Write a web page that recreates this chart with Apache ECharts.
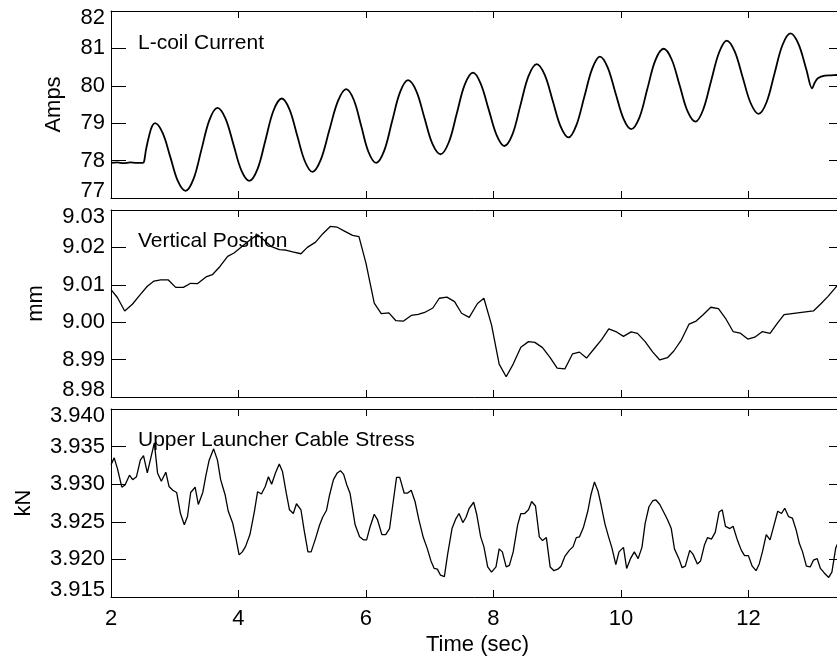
<!DOCTYPE html>
<html>
<head>
<meta charset="utf-8">
<script src="https://cdn.jsdelivr.net/npm/echarts@6/dist/echarts.min.js"></script>
<style>
  html, body { margin: 0; padding: 0; background: #fff; }
  #chart { width: 837px; height: 656px; }
</style>
</head>
<body>
<div id="chart"></div>
<script>
// L-coil current (Amps) versus time (sec)
const coilTime = [2.00, 2.10, 2.20, 2.30, 2.40, 2.50, 2.52, 2.55, 2.60, 2.645, 2.69,
  2.81, 2.93, 3.05, 3.17, 3.295, 3.42, 3.545, 3.67, 3.795, 3.92, 4.045, 4.17,
  4.30, 4.425, 4.55, 4.68, 4.80, 4.92, 5.04, 5.16, 5.29, 5.425, 5.56, 5.69,
  5.81, 5.925, 6.04, 6.16, 6.285, 6.41, 6.535, 6.66, 6.79, 6.915, 7.04, 7.17,
  7.30, 7.425, 7.55, 7.68, 7.80, 7.925, 8.05, 8.17, 8.30, 8.425, 8.55, 8.68,
  8.805, 8.93, 9.055, 9.18, 9.30, 9.425, 9.55, 9.67, 9.79, 9.915, 10.04, 10.16,
  10.29, 10.415, 10.54, 10.67, 10.795, 10.92, 11.045, 11.17, 11.29, 11.415, 11.54, 11.66,
  11.785, 11.91, 12.035, 12.16, 12.285, 12.41, 12.535, 12.66, 12.785, 12.91, 13.00,
  13.04, 13.09, 13.20, 13.30, 13.42, 13.50];
const coilAmps = [77.94, 77.95, 77.93, 77.95, 77.94, 77.94, 77.98, 78.30, 78.68, 78.92, 79.00,
  78.74, 78.10, 77.45, 77.19, 77.51, 78.30, 79.09, 79.41, 79.13, 78.44, 77.74, 77.46,
  77.78, 78.56, 79.34, 79.66, 79.37, 78.68, 77.99, 77.70, 78.02, 78.81, 79.59, 79.91,
  79.62, 78.93, 78.23, 77.94, 78.26, 79.05, 79.83, 80.15, 79.86, 79.16, 78.46, 78.17,
  78.49, 79.26, 80.03, 80.35, 80.06, 79.37, 78.68, 78.39, 78.71, 79.49, 80.26, 80.58,
  80.29, 79.60, 78.91, 78.62, 78.94, 79.70, 80.46, 80.78, 80.50, 79.81, 79.12, 78.84,
  79.15, 79.92, 80.68, 80.99, 80.71, 80.02, 79.32, 79.04, 79.36, 80.13, 80.89, 81.21,
  80.92, 80.23, 79.54, 79.25, 79.56, 80.33, 81.09, 81.40, 81.12, 80.43, 79.93,
  80.08, 80.20, 80.27, 80.28, 80.29, 80.29];

// Vertical position (mm) versus time (sec)
const posTime = [2.00, 2.10, 2.215, 2.335, 2.465, 2.57, 2.675, 2.78, 2.90, 3.015, 3.135,
  3.25, 3.355, 3.49, 3.59, 3.71, 3.83, 3.93, 4.06, 4.18, 4.30, 4.40, 4.51, 4.64,
  4.74, 4.85, 4.98, 5.08, 5.21, 5.32, 5.44, 5.55, 5.67, 5.79, 5.89, 6.00, 6.13,
  6.24, 6.36, 6.47, 6.59, 6.71, 6.82, 6.92, 7.05, 7.15, 7.27, 7.39, 7.50, 7.62,
  7.75, 7.85, 7.97, 8.09, 8.20, 8.31, 8.43, 8.55, 8.65, 8.77, 8.89, 9.00, 9.12,
  9.24, 9.35, 9.46, 9.58, 9.70, 9.81, 9.92, 10.04, 10.16, 10.26, 10.38, 10.50,
  10.61, 10.73, 10.83, 10.95, 11.07, 11.18, 11.29, 11.41, 11.53, 11.65, 11.76,
  11.87, 11.99, 12.10, 12.22, 12.34, 12.45, 12.56, 13.02, 13.13, 13.25, 13.37, 13.50];
const posMm = [9.0087, 9.0066, 9.0030, 9.0048, 9.0075, 9.0096, 9.0110, 9.0113, 9.0113, 9.0093, 9.0093,
  9.0104, 9.0103, 9.0121, 9.0127, 9.0149, 9.0176, 9.0185, 9.0203, 9.0220, 9.0234, 9.0220, 9.0203, 9.0194,
  9.0193, 9.0188, 9.0183, 9.0200, 9.0214, 9.0236, 9.0256, 9.0254, 9.0243, 9.0232, 9.0229, 9.0158, 9.0051,
  9.0023, 9.0025, 9.0004, 9.0003, 9.0018, 9.0021, 9.0026, 9.0038, 9.0064, 9.0067, 9.0055, 9.0024, 9.0013,
  9.0050, 9.0064, 8.9993, 8.9888, 8.9854, 8.9888, 8.9933, 8.9948, 8.9946, 8.9932, 8.9905, 8.9877, 8.9875,
  8.9915, 8.9920, 8.9904, 8.9929, 8.9954, 8.9982, 8.9975, 8.9962, 8.9974, 8.9970, 8.9948, 8.9920,
  8.9899, 8.9905, 8.9923, 8.9953, 8.9995, 9.0003, 9.0020, 9.0040, 9.0036, 9.0008, 8.9975,
  8.9971, 8.9955, 8.9960, 8.9975, 8.9970, 8.9996, 9.0020, 9.0030, 9.0048, 9.0069, 9.0093, 9.0118];

// Upper launcher cable stress (kN) versus time (sec)
const stressTime = [2.00, 2.05, 2.10, 2.17, 2.22, 2.29, 2.34, 2.40, 2.46, 2.51, 2.57, 2.63,
  2.68, 2.73, 2.79, 2.86, 2.91, 2.97, 3.03, 3.09, 3.15, 3.20, 3.25, 3.32, 3.37, 3.44,
  3.49, 3.54, 3.61, 3.67, 3.72, 3.79, 3.84, 3.91, 3.96, 4.01, 4.06, 4.11, 4.18, 4.25,
  4.30, 4.36, 4.42, 4.47, 4.52, 4.58, 4.64, 4.69, 4.75, 4.80, 4.86, 4.91, 4.98, 5.03,
  5.09, 5.14, 5.21, 5.27, 5.32, 5.38, 5.43, 5.49, 5.55, 5.60, 5.65, 5.70, 5.75, 5.83,
  5.90, 5.96, 6.01, 6.06, 6.13, 6.18, 6.25, 6.31, 6.37, 6.42, 6.48, 6.53, 6.60, 6.65,
  6.71, 6.77, 6.83, 6.90, 6.96, 7.02, 7.07, 7.12, 7.17, 7.23, 7.28, 7.35, 7.41, 7.46,
  7.52, 7.57, 7.62, 7.69, 7.74, 7.80, 7.85, 7.91, 7.97, 8.04, 8.09, 8.14, 8.20, 8.25,
  8.31, 8.38, 8.43, 8.49, 8.55, 8.60, 8.66, 8.72, 8.77, 8.83, 8.89, 8.95, 9.01, 9.06,
  9.12, 9.19, 9.25, 9.30, 9.35, 9.41, 9.48, 9.53, 9.585, 9.64, 9.69, 9.75, 9.81, 9.86,
  9.92, 9.97, 10.04, 10.09, 10.15, 10.21, 10.27, 10.33, 10.38, 10.44, 10.50, 10.55,
  10.61, 10.67, 10.73, 10.79, 10.84, 10.91, 10.96, 11.01, 11.08, 11.13, 11.20, 11.25,
  11.31, 11.36, 11.42, 11.48, 11.54, 11.59, 11.64, 11.71, 11.76, 11.83, 11.89, 11.94,
  12.00, 12.06, 12.12, 12.17, 12.22, 12.28, 12.34, 12.40, 12.46, 12.52, 12.57, 12.63,
  12.69, 12.75, 12.80, 12.85, 12.91, 12.97, 13.02, 13.08, 13.13, 13.19, 13.26, 13.31,
  13.37, 13.40, 13.50];
const stressKN = [3.9326, 3.9335, 3.9321, 3.9296, 3.9299, 3.9312, 3.9306, 3.9310, 3.9332, 3.9338, 3.9315, 3.9337,
  3.9355, 3.9315, 3.9304, 3.9316, 3.9297, 3.9292, 3.9289, 3.9261, 3.9246, 3.9257, 3.9289, 3.9296, 3.9273, 3.9289,
  3.9312, 3.9332, 3.9347, 3.9332, 3.9306, 3.9286, 3.9264, 3.9248, 3.9228, 3.9206, 3.9210, 3.9217, 3.9233, 3.9264,
  3.9290, 3.9287, 3.9297, 3.9310, 3.9300, 3.9315, 3.9327, 3.9317, 3.9288, 3.9266, 3.9261, 3.9274, 3.9266, 3.9239,
  3.9210, 3.9210, 3.9228, 3.9245, 3.9256, 3.9265, 3.9286, 3.9306, 3.9315, 3.9318, 3.9313, 3.9299, 3.9288, 3.9246,
  3.9230, 3.9226, 3.9226, 3.9242, 3.9260, 3.9253, 3.9233, 3.9233, 3.9241, 3.9272, 3.9309, 3.9309, 3.9288, 3.9288,
  3.9292, 3.9277, 3.9253, 3.9229, 3.9215, 3.9198, 3.9188, 3.9187, 3.9179, 3.9177, 3.9206, 3.9241, 3.9254, 3.9261,
  3.9249, 3.9256, 3.9268, 3.9276, 3.9259, 3.9230, 3.9217, 3.9190, 3.9183, 3.9190, 3.9214, 3.9210, 3.9190, 3.9192,
  3.9210, 3.9246, 3.9261, 3.9261, 3.9266, 3.9277, 3.9271, 3.9230, 3.9225, 3.9229, 3.9190, 3.9185, 3.9187, 3.9191,
  3.9204, 3.9212, 3.9217, 3.9229, 3.9230, 3.9242, 3.9264, 3.9286, 3.9303, 3.9291, 3.9272, 3.9247, 3.9229, 3.9215,
  3.9193, 3.9210, 3.9216, 3.9188, 3.9201, 3.9210, 3.9201, 3.9216, 3.9248, 3.9270, 3.9278, 3.9279,
  3.9273, 3.9263, 3.9253, 3.9241, 3.9214, 3.9201, 3.9189, 3.9191, 3.9212, 3.9207, 3.9194, 3.9198,
  3.9219, 3.9229, 3.9227, 3.9236, 3.9263, 3.9266, 3.9244, 3.9241, 3.9244, 3.9225, 3.9212, 3.9205,
  3.9205, 3.9191, 3.9185, 3.9194, 3.9210, 3.9233, 3.9226, 3.9245, 3.9264, 3.9261, 3.9268, 3.9257,
  3.9255, 3.9239, 3.9221, 3.9210, 3.9191, 3.9190, 3.9199, 3.9201, 3.9188, 3.9182, 3.9176, 3.9183,
  3.9215, 3.9221, 3.9238];

const panelTitles = ['L-coil Current', 'Vertical Position', 'Upper Launcher Cable Stress'];
const unitNames = ['Amps', 'mm', 'kN'];
const xTicks = [2, 4, 6, 8, 10, 12];

const FONT = '"Liberation Sans", Arial, Helvetica, sans-serif';
const X_MIN = 2, X_MAX = 13.5;
const GRID_LEFT = 111, GRID_WIDTH = 733;

const panels = [
  { top: 11,  height: 187, min: 77,    max: 82,    step: 1,     digits: 0, nameGap: 46, labelY: 43,
    time: coilTime, values: coilAmps, width: 1.8, smooth: 0.35 },
  { top: 210, height: 187, min: 8.98,  max: 9.03,  step: 0.01,  digits: 2, nameGap: 64, labelY: 241,
    time: posTime, values: posMm, width: 1.3, smooth: false },
  { top: 409, height: 188, min: 3.915, max: 3.940, step: 0.005, digits: 3, nameGap: 76, labelY: 440,
    time: stressTime, values: stressKN, width: 1.3, smooth: false }
];

const axisLine = { show: true, lineStyle: { color: '#000', width: 1 } };
const tickFont = { fontFamily: FONT, fontSize: 22, color: '#000' };

const grid = [], xAxis = [], yAxis = [], series = [], graphic = [];

panels.forEach((p, i) => {
  grid.push({ left: GRID_LEFT, top: p.top, width: GRID_WIDTH, height: p.height,
              containLabel: false, outerBoundsMode: 'none' });
  const isLast = i === panels.length - 1;

  // bottom time axis
  xAxis.push({
    type: 'value', gridIndex: i, position: 'bottom', min: X_MIN, max: X_MAX, interval: 2,
    axisLine, splitLine: { show: false },
    axisTick: { show: true, inside: true, length: 7, lineStyle: { color: '#000' } },
    axisLabel: isLast ? Object.assign({ show: true, margin: 11, showMaxLabel: false,
      formatter: v => (xTicks.indexOf(v) >= 0 ? String(v) : '') }, tickFont) : { show: false },
    name: isLast ? 'Time (sec)' : '', nameLocation: 'middle', nameGap: 37,
    nameTextStyle: { fontFamily: FONT, fontSize: 22, color: '#000' }
  });
  // top frame with ticks
  xAxis.push({
    type: 'value', gridIndex: i, position: 'top', min: X_MIN, max: X_MAX, interval: 2,
    axisLine, splitLine: { show: false },
    axisTick: { show: true, inside: true, length: 7, lineStyle: { color: '#000' } },
    axisLabel: { show: false }
  });

  const hiPad = { padding: [14, 0, 0, 0], fontFamily: FONT, fontSize: 22, color: '#000' };
  const loPad = { padding: [0, 0, 14, 0], fontFamily: FONT, fontSize: 22, color: '#000' };
  yAxis.push({
    type: 'value', gridIndex: i, position: 'left', min: p.min, max: p.max, interval: p.step,
    axisLine, splitLine: { show: false },
    axisTick: { show: true, inside: true, length: 15, lineStyle: { color: '#000' } },
    axisLabel: Object.assign({
      margin: 6,
      formatter: v => {
        const s = v.toFixed(p.digits);
        if (Math.abs(v - p.max) < p.step * 1e-3) return '{hi|' + s + '}';
        if (Math.abs(v - p.min) < p.step * 1e-3) return '{lo|' + s + '}';
        return s;
      },
      rich: { hi: hiPad, lo: loPad }
    }, tickFont),
    name: unitNames[i], nameLocation: 'middle', nameGap: p.nameGap,
    nameTextStyle: { fontFamily: FONT, fontSize: 22, color: '#000' }
  });
  yAxis.push({
    type: 'value', gridIndex: i, position: 'right', min: p.min, max: p.max, interval: p.step,
    axisLine, splitLine: { show: false },
    axisTick: { show: true, inside: true, length: 15, lineStyle: { color: '#000' } },
    axisLabel: { show: false }
  });

  series.push({
    type: 'line', xAxisIndex: i * 2, yAxisIndex: i * 2,
    data: p.time.map((t, k) => [t, p.values[k]]),
    showSymbol: false, smooth: p.smooth, clip: true,
    lineStyle: { color: '#000', width: p.width }, emphasis: { disabled: true }, silent: true
  });

  graphic.push({
    type: 'text', x: 138, y: p.labelY, z: 10,
    style: { text: panelTitles[i], fontFamily: FONT, fontSize: 21, fill: '#000', verticalAlign: 'middle' }
  });
});

const chart = echarts.init(document.getElementById('chart'), null, { renderer: 'canvas' });
chart.setOption({
  animation: false,
  backgroundColor: '#fff',
  grid, xAxis, yAxis, series, graphic
});
</script>
</body>
</html>
